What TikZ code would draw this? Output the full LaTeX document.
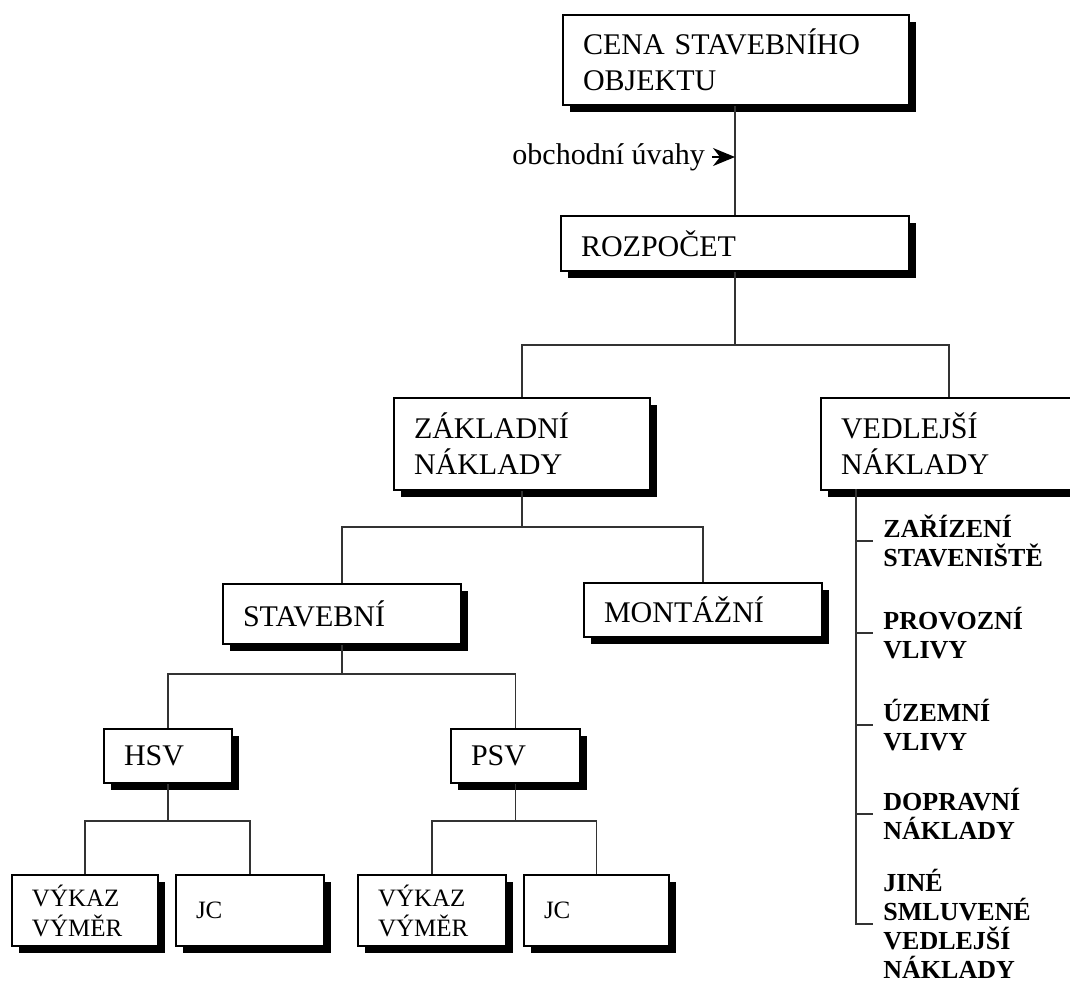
\documentclass[tikz,border=0pt]{standalone}
\usepackage{fontspec}
\setmainfont{Liberation Serif}
\usetikzlibrary{shadows,arrows.meta}

\tikzset{
  box/.style={draw, line width=1pt, fill=white, anchor=north west, align=left,
    inner xsep=10pt, inner ysep=0pt, font=\fontsize{15}{18}\selectfont,
    drop shadow={shadow xshift=3.5pt, shadow yshift=-3.5pt, fill=black, opacity=1}},
  smallbox/.style={box, font=\fontsize{12.5}{15}\selectfont},
  boxsize/.style 2 args={text width=#1-20pt, minimum height=#2},
  link/.style={draw=black!80, line width=0.7pt},
  item/.style={anchor=west, align=left, inner xsep=5pt, inner ysep=0pt,
    font=\bfseries\fontsize{13}{14.5}\selectfont}
}

\begin{document}
\begin{tikzpicture}[x=0.5pt, y=-0.5pt]
  \useasboundingbox (0,0) rectangle (1070,986);

  % Top: price and budget
  \node[box, boxsize={173pt}{45pt}] (cena) at (562,14) {CENA STAVEBNÍHO\\OBJEKTU};
  \node[box, boxsize={174pt}{27.5pt}] (rozp) at (560,215) {ROZPOČET};
  \draw[link] (rozp.north) -- (rozp.north |- cena.south);

  % Business considerations arrow
  \node[anchor=east, font=\fontsize{15}{18}\selectfont] (uvahy) at (712,157) {obchodní úvahy};
  \draw[draw=black, line width=0.7pt, -{Stealth[length=11pt, width=9pt, inset=3.5pt]}]
    (uvahy.east) -- (uvahy.east -| rozp.north);

  % Basic and secondary costs
  \node[box, boxsize={128pt}{46pt}] (zakl) at (393,397) {ZÁKLADNÍ\\NÁKLADY};
  \node[box, boxsize={128pt}{46pt}] (vedl) at (820,397) {VEDLEJŠÍ\\NÁKLADY};
  \coordinate (j1) at ([yshift=-36.5pt]rozp.south);
  \draw[link] (rozp.south) -- (j1);
  \draw[link] (zakl.north) |- (j1) -| (vedl.north);

  % Construction and assembly
  \node[box, boxsize={119pt}{30pt}] (stav) at (222,583) {STAVEBNÍ};
  \node[box, boxsize={119pt}{27pt}] (mont) at (583,582) {MONTÁŽNÍ};
  \coordinate (j2) at ([yshift=-18pt]zakl.south);
  \draw[link] (zakl.south) -- (j2);
  \draw[link] (stav.north) |- (j2) -| (mont.north);

  % HSV and PSV
  \node[box, boxsize={64pt}{27pt}] (hsv) at (103,728) {HSV};
  \node[box, boxsize={64.5pt}{27pt}] (psv) at (450,728) {PSV};
  \coordinate (j3) at ([yshift=-14.5pt]stav.south);
  \draw[link] (stav.south) -- (j3);
  \draw[link] (hsv.north) |- (j3) -| (psv.north);

  % Bill of quantities and unit prices
  \node[smallbox, boxsize={73pt}{35.5pt}] (hsvvv) at (11,874) {VÝKAZ\\VÝMĚR};
  \node[smallbox, boxsize={74pt}{35.5pt}] (hsvjc) at (175,874) {JC};
  \node[smallbox, boxsize={74pt}{35.5pt}] (psvvv) at (357,874) {VÝKAZ\\VÝMĚR};
  \node[smallbox, boxsize={72.5pt}{35.5pt}] (psvjc) at (523,874) {JC};
  \coordinate (j4) at ([yshift=-18.5pt]hsv.south);
  \coordinate (j5) at ([yshift=-18.5pt]psv.south);
  \draw[link] (hsv.south) -- (j4);
  \draw[link] (hsvvv.north) |- (j4) -| (hsvjc.north);
  \draw[link] (psv.south) -- (j5);
  \draw[link] (psvvv.north) |- (j5) -| (psvjc.north);

  % Secondary cost items
  \node[item] (zar) at (873,541) {ZAŘÍZENÍ\\STAVENIŠTĚ};
  \node[item] (prov) at (873,633) {PROVOZNÍ\\VLIVY};
  \node[item] (uzem) at (873,725) {ÚZEMNÍ\\VLIVY};
  \node[item] (dopr) at (873,814) {DOPRAVNÍ\\NÁKLADY};
  \node[item] (jine) at (873,924) {JINÉ\\SMLUVENÉ\\VEDLEJŠÍ\\NÁKLADY};
  \coordinate (vtop) at (856,489);
  \draw[link] (vtop) |- (jine.west);
  \foreach \n in {zar,prov,uzem,dopr}
    \draw[link] (vtop |- \n.west) -- (\n.west);
\end{tikzpicture}
\end{document}
